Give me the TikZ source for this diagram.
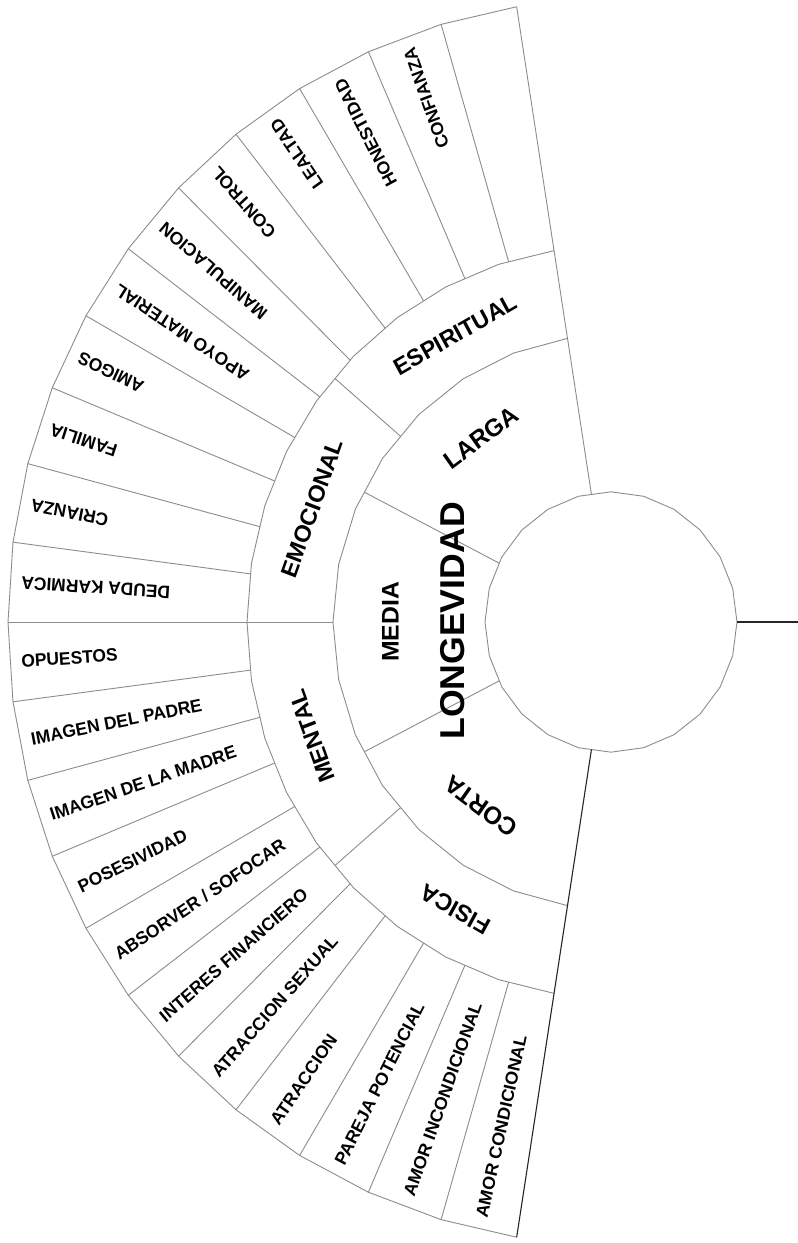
\documentclass[tikz,border=0pt]{standalone}
\usepackage{fontspec}
\setmainfont{Liberation Sans}
% radius of a regular polygon boundary at angle #2: R=#3, first vertex #4, step #5
\newcommand\polyr[5]{%
  \pgfmathsetmacro\prk{floor(((#2)-(#4))/(#5))}%
  \pgfmathsetmacro#1{(#3)*cos((#5)/2)/cos((#2)-(#4)-(\prk+0.5)*(#5))}}
\tikzset{
  ln/.style={draw=black!45, line width=0.9pt, line join=round},
  edgeline/.style={draw=black!85, line width=1.1pt},
  axisline/.style={draw=black!85, line width=2.4pt},
  stretched/.style={yscale=1.033, rotate=#1},
  outl/.style={font=\bfseries\fontsize{17.4}{18}\selectfont, inner sep=0pt, text height=12.46pt, text depth=0pt},
  midl/.style={font=\bfseries\fontsize{23}{24}\selectfont, inner sep=0pt, text height=16.47pt, text depth=0pt},
  innl/.style={font=\bfseries\fontsize{24}{25}\selectfont, inner sep=0pt, text height=17.18pt, text depth=0pt},
  bigl/.style={font=\bfseries\fontsize{34.5}{36}\selectfont, inner sep=0pt, text height=24.7pt, text depth=0pt},
}
\begin{document}
\begin{tikzpicture}[x=1pt,y=1.033pt]
\fill[white] (-611pt,-621pt) rectangle (187pt,622pt);
\useasboundingbox (-611pt,-621pt) rectangle (187pt,622pt);
\def\dC{15}
\pgfmathsetmacro\dA{162/14}
\def\dB{9}
\pgfmathsetmacro\dO{162/22}
% polygonal rings
\draw[ln] plot[samples=25,domain=0:360] (\x:126) -- cycle;
\draw[ln] plot[samples=15,domain=99:261] (\x:278);
\draw[ln] plot[samples=19,domain=99:261] (\x:364);
\draw[ln] plot[samples=23,domain=99:261] (\x:603);
% outer ring spokes
\foreach \k in {1,...,21} {
  \pgfmathsetmacro\ang{99+\k*\dO}
  \polyr\rin{\ang}{364}{99}{\dB}
  \draw[ln] (\ang:\rin) -- (\ang:603);
}
% fan edges
\polyr\rA{99}{126}{0}{\dC}
\draw[ln] (99:\rA) -- (99:603);
\polyr\rB{261}{126}{0}{\dC}
\draw[edgeline] (261:\rB) -- (261:603);
% middle ring spokes
\foreach \ang in {139.5,180,220.5} {
  \polyr\rin{\ang}{278}{99}{\dA}
  \polyr\rout{\ang}{364}{99}{\dB}
  \draw[ln] (\ang:\rin) -- (\ang:\rout);
}
% inner ring spokes
\foreach \ang in {153,207} {
  \polyr\rin{\ang}{126}{0}{\dC}
  \polyr\rout{\ang}{278}{99}{\dA}
  \draw[ln] (\ang:\rin) -- (\ang:\rout);
}
% axis line to the right
\coordinate (cR) at (0:126);
\coordinate (eR) at (187,0);
\draw[axisline] (cR) -- (eR);
% outer labels
\foreach \lab [count=\i] in {CONFIANZA,HONESTIDAD,LEALTAD,CONTROL,MANIPULACION,APOYO MATERIAL,AMIGOS,FAMILIA,CRIANZA,DEUDA KARMICA,OPUESTOS,IMAGEN DEL PADRE,IMAGEN DE LA MADRE,POSESIVIDAD,ABSORVER / SOFOCAR,INTERES FINANCIERO,ATRACCION SEXUAL,ATRACCION,PAREJA POTENCIAL,AMOR INCONDICIONAL,AMOR CONDICIONAL} {
  \pgfmathsetmacro\ang{99+(\i+0.5)*\dO}
  \ifnum\i<11
    \node[outl,anchor=east,stretched=\ang] (o\i) at (\ang:591) {\lab};
  \else
    \pgfmathsetmacro\rot{\ang-180}
    \node[outl,anchor=west,stretched=\rot] (o\i) at (\ang:591) {\lab};
  \fi
}
% middle ring labels
\foreach \lab/\ang/\nm in {ESPIRITUAL/119.25/esp,EMOCIONAL/159.75/emo,MENTAL/200.25/men,FISICA/240.75/fis} {
  \pgfmathsetmacro\rot{\ang-90}
  \node[midl,stretched=\rot] (\nm) at (\ang:319) {\lab};
}
% inner ring labels
\foreach \lab/\ang/\nm in {LARGA/126/lar,MEDIA/180/med,CORTA/234/cor} {
  \pgfmathsetmacro\rot{\ang-90}
  \node[innl,stretched=\rot] (\nm) at (\ang:221) {\lab};
}
\node[bigl,stretched=90] (lon) at (-158.5,1) {LONGEVIDAD};
\end{tikzpicture}
\end{document}
